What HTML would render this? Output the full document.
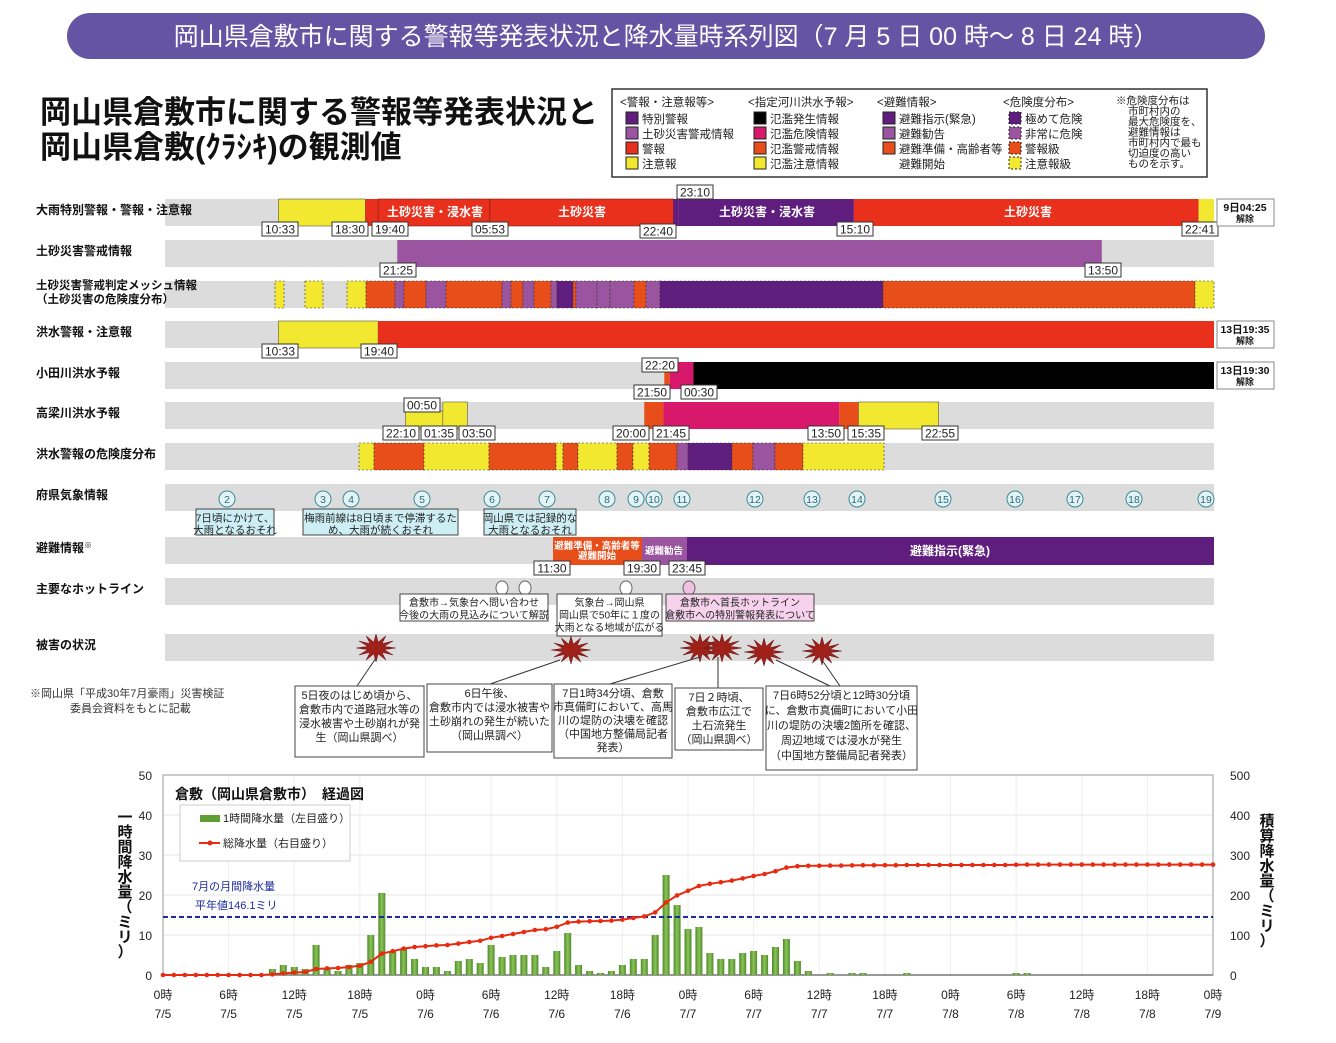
<!DOCTYPE html>
<html><head><meta charset="utf-8"><style>
body{margin:0;background:#fff;width:1336px;height:1038px;overflow:hidden}
svg text{font-family:"Liberation Sans","Noto Sans CJK JP",sans-serif}
</style></head><body>
<svg id="s" width="1336" height="1038" xmlns="http://www.w3.org/2000/svg"></svg>
<script>
var o=[];
function X(d,h,m){return 163+((d-5)*24+h+(m||0)/60)*10.9375;}
function R(x1,x2,y,h,c,extra){o.push('<rect x="'+x1+'" y="'+y+'" width="'+(x2-x1)+'" height="'+h+'" fill="'+c+'" '+(extra||'')+'/>');}
function T(x,y,s,sz,c,extra){o.push('<text x="'+x+'" y="'+y+'" font-size="'+sz+'" fill="'+(c||'#000')+'" '+(extra||'')+'>'+s+'</text>');}
function L(cx,y,s){o.push('<rect x="'+(cx-18)+'" y="'+y+'" width="36" height="14" fill="#fff" stroke="#333" stroke-width="1"/>');T(cx,y+11.5,s,12,'#222','text-anchor="middle"');}
var Y='#f2e830',RD='#e8301c',DP='#5f1e7e',LP='#9b55a0',OR='#e84e1a',MG='#d8186a';
o.push('<rect x="67" y="13" width="1198" height="46" rx="23" fill="#6454a4"/>');
T(666,45,'岡山県倉敷市に関する警報等発表状況と降水量時系列図（7 月 5 日 00 時～ 8 日 24 時）',25,'#fff','text-anchor="middle"');
T(40,123,'岡山県倉敷市に関する警報等発表状況と',31,'#111','font-weight="bold"');
T(40,158,'岡山県倉敷(ｸﾗｼｷ)の観測値',31,'#111','font-weight="bold"');
o.push('<rect x="612" y="89" width="595" height="88" fill="#fff" stroke="#333" stroke-width="1.5"/>');
var cols=[[620,'<警報・注意報等>',[[DP,'特別警報'],[LP,'土砂災害警戒情報'],[RD,'警報'],[Y,'注意報']],0],
[748,'<指定河川洪水予報>',[['#000','氾濫発生情報'],[MG,'氾濫危険情報'],[OR,'氾濫警戒情報'],[Y,'氾濫注意情報']],0],
[877,'<避難情報>',[[DP,'避難指示(緊急)'],[LP,'避難勧告'],[OR,'避難準備・高齢者等'],[null,'避難開始']],0],
[1003,'<危険度分布>',[[DP,'極めて危険'],[LP,'非常に危険'],[OR,'警報級'],[Y,'注意報級']],1]];
cols.forEach(function(c){T(c[0],106,c[1],11.5,'#222');c[2].forEach(function(r,i){var y=112+i*15;if(r[0])o.push('<rect x="'+(c[0]+6)+'" y="'+y+'" width="12" height="12" fill="'+r[0]+'" stroke="#222" stroke-width="1" '+(c[3]?'stroke-dasharray="2,2"':'')+'/>');T(c[0]+22,y+11,r[1],11.5,'#222');});});
['※危険度分布は','市町村内の','最大危険度を、','避難情報は','市町村内で最も','切迫度の高い','ものを示す。'].forEach(function(s,i){T(i?1128:1116,104+i*10.5,s,10.5,'#222');});
var rows=[[199,'大雨特別警報・警報・注意報'],[240,'土砂災害警戒情報'],[281,''],[321,'洪水警報・注意報'],[362,'小田川洪水予報'],[402,'高梁川洪水予報'],[443,'洪水警報の危険度分布'],[484,'府県気象情報'],[537,'避難情報<tspan font-size="8" dy="-4">※</tspan>'],[578,'主要なホットライン'],[634,'被害の状況']];
rows.forEach(function(r){R(165,1214,r[0],27,'#dcdcdc');if(r[1])T(36,r[0]+15,r[1],12,'#111','font-weight="bold"');});
T(36,289,'土砂災害警戒判定メッシュ情報',11.5,'#111','font-weight="bold"');T(36,303,'（土砂災害の危険度分布）',11.5,'#111','font-weight="bold"');
R(X(5,10,33),X(5,18,30),199,27,Y,'stroke="#555" stroke-width=".6"');R(X(5,18,30),X(5,19,40),199,27,RD);
R(X(5,19,40),X(6,5,53),199,27,RD,'stroke="#7a1a10" stroke-width=".6"');R(X(6,5,53),X(6,22,40),199,27,RD,'stroke="#7a1a10" stroke-width=".6"');
R(X(6,22,40),X(6,23,10),199,27,DP);R(X(6,23,10),X(7,15,10),199,27,DP);R(X(7,15,10),X(8,22,41),199,27,RD);R(X(8,22,41),1214,199,27,Y);
T(435,216,'土砂災害・浸水害',12,'#fff','text-anchor="middle" font-weight="bold"');T(582,216,'土砂災害',12,'#fff','text-anchor="middle" font-weight="bold"');
T(767,216,'土砂災害・浸水害',12,'#fff','text-anchor="middle" font-weight="bold"');T(1028,216,'土砂災害',12,'#fff','text-anchor="middle" font-weight="bold"');
L(280,222,'10:33');L(350,222,'18:30');L(390,222,'19:40');L(490,222,'05:53');L(658,224,'22:40');L(695,185,'23:10');L(855,222,'15:10');L(1200,222,'22:41');
R(X(5,21,25),X(8,13,50),240,27,LP);L(398,263,'21:25');L(1103,263,'13:50');
[[275,284,Y],[305,323,Y],[347,366,Y],[366,395,OR],[395,404,LP],[404,426,OR],[426,446,LP],[446,502,OR],[502,511,LP],[511,523,OR],[523,534,LP],[534,551,OR],[551,557,LP],[557,573,DP],[573,576,OR],[576,597,LP],[597,610,LP],[610,634,LP],[634,646,OR],[646,660,LP],[660,883,DP],[883,1195,OR],[1195,1214,Y]].forEach(function(s){R(s[0],s[1],281,27,s[2],'stroke="#333" stroke-width=".6" stroke-dasharray="2,2"');});
R(X(5,10,33),X(5,19,40),321,27,Y,'stroke="#555" stroke-width=".6"');R(X(5,19,40),1214,321,27,RD);L(280,344,'10:33');L(379,344,'19:40');
R(X(6,21,50),X(6,22,20),362,27,OR);R(X(6,22,20),X(7,0,30),362,27,MG);R(X(7,0,30),1214,362,27,'#000');
L(660,358,'22:20');L(652,385,'21:50');L(699,385,'00:30');
[[199,'9日04:25'],[321,'13日19:35'],[362,'13日19:30']].forEach(function(b){o.push('<rect x="1217" y="'+b[0]+'" width="57" height="27" fill="#fff" stroke="#888"/>');T(1245,b[0]+12,b[1],10.5,'#111','text-anchor="middle" font-weight="bold"');T(1245,b[0]+23,'解除',9,'#111','text-anchor="middle" font-weight="bold"');});
R(X(5,22,10),X(6,1,35),411,18,Y,'stroke="#555" stroke-width=".6"');R(X(6,1,35),X(6,3,50),402,27,Y,'stroke="#555" stroke-width=".6"');
R(X(6,20,0),X(6,21,45),402,27,OR);R(X(6,21,45),X(7,13,50),402,27,MG);R(X(7,13,50),X(7,15,35),402,27,OR);R(X(7,15,35),X(7,22,55),402,27,Y,'stroke="#555" stroke-width=".6"');
L(422,398,'00:50');L(401,426,'22:10');L(439,426,'01:35');L(477,426,'03:50');L(631,426,'20:00');L(671,426,'21:45');L(826,426,'13:50');L(866,426,'15:35');L(940,426,'22:55');
[[359,374,Y],[374,424,OR],[424,489,Y],[489,556,OR],[556,563,Y],[563,578,OR],[578,617,Y],[617,633,OR],[633,649,Y],[649,677,OR],[677,688,LP],[688,732,DP],[732,753,OR],[753,775,LP],[775,803,OR],[803,884,Y]].forEach(function(s){R(s[0],s[1],443,27,s[2],'stroke="#333" stroke-width=".6" stroke-dasharray="2,2"');});
[[2,227],[3,323],[4,351],[5,422],[6,492],[7,547],[8,607],[9,636],[10,654],[11,682],[12,755],[13,812],[14,857],[15,943],[16,1015],[17,1075],[18,1134],[19,1206]].forEach(function(c){o.push('<ellipse cx="'+c[1]+'" cy="499" rx="8" ry="8" fill="#e4f4f6" stroke="#3a8a98"/>');T(c[1],503,c[0],10.5,'#2a6a78','text-anchor="middle"');});
function box(x,y,w,h,lines,fill,sz,lh){o.push('<rect x="'+x+'" y="'+y+'" width="'+w+'" height="'+h+'" fill="'+fill+'" stroke="#444"/>');lines.forEach(function(s,i){T(x+w/2,y+sz+2+i*lh,s,sz,'#222','text-anchor="middle"');});}
box(196,509,78,26,['7日頃にかけて、','大雨となるおそれ'],'#cdeef4',10.5,12);
box(303,509,155,26,['梅雨前線は8日頃まで停滞するた','め、大雨が続くおそれ'],'#cdeef4',10.5,12);
box(484,509,92,26,['岡山県では記録的な','大雨となるおそれ'],'#cdeef4',10.5,12);
R(553,642,537,28,OR);R(642,687,537,28,LP);R(687,1214,537,28,DP);
T(597,549,'避難準備・高齢者等',9.5,'#fff','text-anchor="middle" font-weight="bold"');T(597,559,'避難開始',9.5,'#fff','text-anchor="middle" font-weight="bold"');
T(664,554,'避難勧告',9.5,'#fff','text-anchor="middle" font-weight="bold"');T(950,555,'避難指示(緊急)',12,'#fff','text-anchor="middle" font-weight="bold"');
L(552,561,'11:30');L(642,561,'19:30');L(687,561,'23:45');
[[502,'#fff'],[525,'#fff'],[626,'#fff'],[689,'#f0c0e0']].forEach(function(c){o.push('<ellipse cx="'+c[0]+'" cy="588" rx="6" ry="7" fill="'+c[1]+'" stroke="#666"/>');});
box(400,594,148,27,['倉敷市→気象台へ問い合わせ','今後の大雨の見込みについて解説'],'#fff',10,12.5);
box(557,594,105,42,['気象台→岡山県','岡山県で50年に１度の','大雨となる地域が広がる'],'#fff',10,12.5);
box(666,594,148,27,['倉敷市へ首長ホットライン','倉敷市への特別警報発表について'],'#f6d2ec',10,12.5);
function star(cx,cy){var p=[];for(var i=0;i<24;i++){var a=i*Math.PI/12,r=i%2?6:14;p.push((cx+r*Math.cos(a)*1.4).toFixed(1)+','+(cy+r*Math.sin(a)).toFixed(1));}o.push('<polygon points="'+p.join(' ')+'" fill="#a0201a" stroke="#601010" stroke-width=".5"/>');}
[[376,648],[571,650],[700,648],[722,648],[764,652],[822,651]].forEach(function(s){star(s[0],s[1]);});
[[376,658,357,686],[560,660,490,684],[700,657,610,684],[718,657,718,688],[776,660,830,686],[822,660,840,686]].forEach(function(l){o.push('<line x1="'+l[0]+'" y1="'+l[1]+'" x2="'+l[2]+'" y2="'+l[3]+'" stroke="#333"/>');});
box(295,686,129,71,['5日夜のはじめ頃から、','倉敷市内で道路冠水等の','浸水被害や土砂崩れが発','生（岡山県調べ）'],'#fff',11,14);
box(427,684,125,68,['6日午後、','倉敷市内では浸水被害や','土砂崩れの発生が続いた','（岡山県調べ）'],'#fff',11,14);
box(554,684,118,74,['7日1時34分頃、倉敷','市真備町において、高馬','川の堤防の決壊を確認','（中国地方整備局記者','発表）'],'#fff',11,13.5);
box(675,688,88,62,['7日２時頃、','倉敷市広江で','土石流発生','（岡山県調べ）'],'#fff',11,14);
box(766,686,151,84,['7日6時52分頃と12時30分頃','に、倉敷市真備町において小田','川の堤防の決壊2箇所を確認、','周辺地域では浸水が発生','（中国地方整備局記者発表）'],'#fff',11,15);
T(30,697,'※岡山県「平成30年7月豪雨」災害検証',11,'#333');T(70,712,'委員会資料をもとに記載',11,'#333');
var x0=163,x1=1213,yb=975,yt=775;
for(var v=10;v<=40;v+=10){var yy=yb-v*4;o.push('<line x1="'+x0+'" y1="'+yy+'" x2="'+x1+'" y2="'+yy+'" stroke="#e6e6e6"/>');}
for(var h=0;h<=96;h+=6){var xx=x0+h*10.9375;o.push('<line x1="'+xx+'" y1="'+yt+'" x2="'+xx+'" y2="'+yb+'" stroke="#eeeeee"/>');}
o.push('<rect x="'+x0+'" y="'+yt+'" width="'+(x1-x0)+'" height="200" fill="none" stroke="#999"/>');
o.push('<line x1="'+x0+'" y1="'+yb+'" x2="'+x1+'" y2="'+yb+'" stroke="#777" stroke-width="1.5"/>');
for(var v=0;v<=50;v+=10){T(152,yb-v*4+5,v,12,'#222','text-anchor="end"');T(1230,yb-v*4+5,v*10,12,'#222');}
var dates=['7/5','7/5','7/5','7/5','7/6','7/6','7/6','7/6','7/7','7/7','7/7','7/7','7/8','7/8','7/8','7/8','7/9'];
for(var i=0;i<=16;i++){var xx=x0+i*6*10.9375;T(xx,999,['0','6','12','18'][i%4]+'時',12,'#222','text-anchor="middle"');T(xx,1018,dates[i],12,'#222','text-anchor="middle"');}
var b=[1.5,2.5,2,1.5,7.5,1.5,1,2.5,3,10,20.5,6,6.5,4,2,2,1,3.5,4,3,7.5,4.5,5,5,5,2,6,10.5,2.5,1,0.5,1,2.5,4,4,10,25,17.5,11.5,12,5.5,4,4,5.5,6,5,7,9,3.5,1];
var r=new Array(97).fill(0);b.forEach(function(v,i){r[10+i]=v;});[61,63,64,68,78,79].forEach(function(h){r[h]=0.5;});
o.push('<defs><linearGradient id="g" x1="0" x2="1"><stop offset="0" stop-color="#4e8a2a"/><stop offset=".5" stop-color="#8cc458"/><stop offset="1" stop-color="#4e8a2a"/></linearGradient></defs>');
for(var h=1;h<=96;h++){if(r[h]>0){var xx=x0+h*10.9375;R((xx-3.5).toFixed(1),(xx+3.5).toFixed(1),(yb-r[h]*4).toFixed(1),(r[h]*4).toFixed(1),'url(#g)');}}
o.push('<line x1="'+x0+'" y1="917" x2="'+x1+'" y2="917" stroke="#1a2a9a" stroke-width="2" stroke-dasharray="5,3"/>');
T(192,890,'7月の月間降水量',11,'#1a2a9a');T(195,909,'平年値146.1ミリ',11,'#1a2a9a');
var c=0,pts=[];for(var h=0;h<=96;h++){c+=r[h];pts.push([x0+h*10.9375,yb-c*0.4]);}
o.push('<polyline points="'+pts.map(function(p){return p[0].toFixed(1)+','+p[1].toFixed(1);}).join(' ')+'" fill="none" stroke="#e82a10" stroke-width="2"/>');
pts.forEach(function(p){o.push('<circle cx="'+p[0].toFixed(1)+'" cy="'+p[1].toFixed(1)+'" r="2.3" fill="#e82a10"/>');});
T(175,799,'倉敷（岡山県倉敷市）　経過図',14,'#111','font-weight="bold"');
o.push('<rect x="180" y="805" width="170" height="56" fill="#fff" stroke="#ccc"/>');
R(200,220,815,7,'#5e9e34');T(223,822,'1時間降水量（左目盛り）',11,'#222');
o.push('<line x1="199" y1="843" x2="220" y2="843" stroke="#e82a10" stroke-width="2"/><circle cx="210" cy="843" r="2.5" fill="#e82a10"/>');T(223,847,'総降水量（右目盛り）',11,'#222');
['一','時','間','降','水','量','（','ミ','リ','）'].forEach(function(s,i){T(125,822+i*15,s,15,'#111','text-anchor="middle" font-weight="bold"');});
['積','算','降','水','量','（','ミ','リ','）'].forEach(function(s,i){T(1267,826+i*15,s,15,'#111','text-anchor="middle" font-weight="bold"');});
document.getElementById('s').innerHTML=o.join('');
</script>
</body></html>
